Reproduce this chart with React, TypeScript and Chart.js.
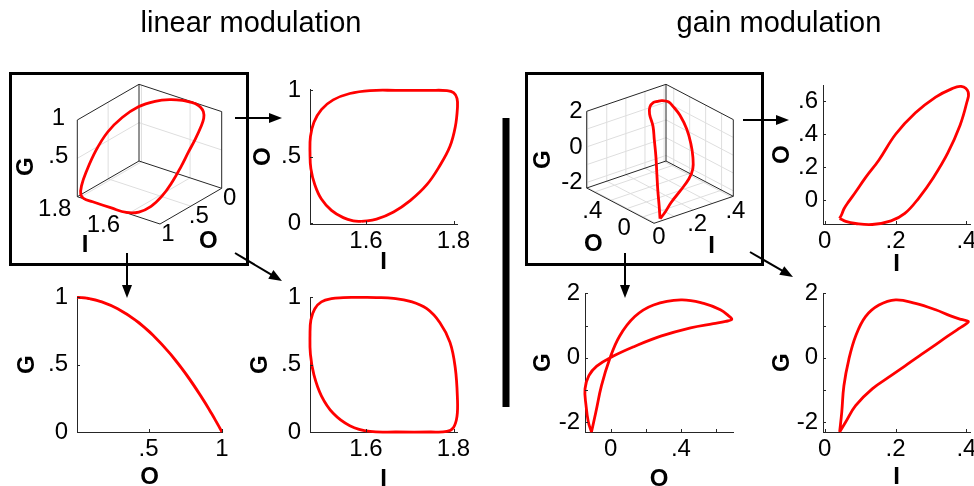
import React, { useEffect, useRef } from "react";
import { Chart, registerables } from "chart.js";
Chart.register(...registerables);

const FONT = "'Liberation Sans', Arial, Helvetica, sans-serif";
const RED = "#ff0000";
const AXIS = "#262626";
const TICK_FS = 24;
const TITLE_FS = 24;
const LINE_W = 2.8;

// ---------- linear modulation: one cycle of (I, O, G) ----------
const linI = [1.590, 1.624, 1.663, 1.701, 1.739, 1.769, 1.792, 1.804, 1.809, 1.808, 1.800, 1.785, 1.747, 1.670, 1.609, 1.563, 1.525, 1.498, 1.481, 1.473, 1.472, 1.474, 1.483, 1.498, 1.521, 1.548, 1.571];
const linO = [0.012, 0.030, 0.084, 0.169, 0.289, 0.434, 0.578, 0.723, 0.867, 0.940, 0.983, 0.998, 1.000, 1.000, 0.998, 0.976, 0.928, 0.855, 0.759, 0.651, 0.530, 0.410, 0.289, 0.181, 0.096, 0.041, 0.017];
const linG = [1.000, 0.999, 0.993, 0.971, 0.916, 0.812, 0.666, 0.477, 0.248, 0.116, 0.034, 0.004, 0.000, 0.000, 0.004, 0.047, 0.139, 0.269, 0.424, 0.576, 0.719, 0.832, 0.916, 0.967, 0.991, 0.998, 1.000];

// ---------- gain modulation: one cycle of (I, O, G) ----------
const gainI = [0.042, 0.059, 0.087, 0.134, 0.187, 0.226, 0.266, 0.306, 0.347, 0.382, 0.400, 0.405, 0.385, 0.355, 0.313, 0.256, 0.200, 0.153, 0.115, 0.087, 0.068, 0.054, 0.048];
const gainO = [-0.110, -0.128, -0.141, -0.147, -0.125, -0.080, 0.015, 0.135, 0.285, 0.455, 0.585, 0.655, 0.690, 0.672, 0.625, 0.530, 0.400, 0.244, 0.137, 0.050, -0.007, -0.053, -0.085];
const gainG = [-2.31, -2.00, -1.49, -0.97, -0.56, -0.26, 0.05, 0.35, 0.67, 0.93, 1.06, 1.13, 1.19, 1.30, 1.49, 1.69, 1.80, 1.64, 1.28, 0.67, -0.05, -0.87, -1.69];

// ---------- ticks ----------
const linITicks = [1.6, 1.8];
const linITickLabels = ["1.6", "1.8"];
const linUnitTicks = [0, 0.5, 1];
const linUnitTickLabels = ["0", ".5", "1"];
const linOTicksGO = [0.5, 1];
const linOTickLabelsGO = [".5", "1"];
const gainITicks = [0, 0.2, 0.4];
const gainITickLabels = ["0", ".2", ".4"];
const gainOTicks = [0, 0.2, 0.4, 0.6];
const gainOTickLabelsY = ["0", ".2", ".4", ".6"];
const gainOTickLabelsX = ["0", "", ".4", ""];
const gainGTicks = [-2, -1, 0, 1, 2];
const gainGTickLabels = ["-2", "", "0", "", "2"];

const lin3dITicks = [1.6, 1.8];
const lin3dILabels = ["1.6", "1.8"];
const lin3dOTicks = [0, 0.5, 1];
const lin3dOLabels = ["0", ".5", "1"];
const lin3dGTicks = [0, 0.5, 1];
const lin3dGLabels = ["", ".5", "1"];
const gain3dITicks = [0, 0.1, 0.2, 0.3, 0.4];
const gain3dILabels = ["0", "", ".2", "", ".4"];
const gain3dOTicks = [0, 0.2, 0.4, 0.6];
const gain3dOLabels = ["0", "", ".4", ""];
const gain3dGTicks = [-2, -1, 0, 1, 2];
const gain3dGLabels = ["-2", "", "0", "", "2"];

const close = (a: number[]) => a.concat([a[0]]);

// ---------- 2D panels ----------
type P2 = {
  xs: number[]; ys: number[];
  plot: { l: number; t: number; r: number; b: number };
  x: [number, number]; y: [number, number];
  xTicks: number[]; xLabels: string[]; yTicks: number[]; yLabels: string[];
  xTitle: string; yTitle: string; yTitleX: number; xTitleY: number;
  yPad: number; xPad: number;
};

const panels: P2[] = [
  { xs: linI, ys: linO, plot: { l: 310, t: 84, r: 457, b: 224 }, x: [1.472, 1.808], y: [-0.007, 1.007],
    xTicks: linITicks, xLabels: linITickLabels, yTicks: linUnitTicks, yLabels: linUnitTickLabels,
    xTitle: "I", yTitle: "O", yTitleX: 263, xTitleY: 262, yPad: 9, xPad: 3 },
  { xs: linO, ys: linG, plot: { l: 77, t: 292, r: 222, b: 432 }, x: [0.012, 1.0], y: [0, 1],
    xTicks: linOTicksGO, xLabels: linOTickLabelsGO, yTicks: linUnitTicks, yLabels: linUnitTickLabels,
    xTitle: "O", yTitle: "G", yTitleX: 27, xTitleY: 477, yPad: 9, xPad: 3 },
  { xs: linI, ys: linG, plot: { l: 310, t: 292, r: 457, b: 432 }, x: [1.472, 1.808], y: [0, 1],
    xTicks: linITicks, xLabels: linITickLabels, yTicks: linUnitTicks, yLabels: linUnitTickLabels,
    xTitle: "I", yTitle: "G", yTitleX: 260, xTitleY: 479, yPad: 9, xPad: 3 },
  { xs: gainI, ys: gainO, plot: { l: 823, t: 84, r: 970, b: 224 }, x: [-0.005, 0.41], y: [-0.144, 0.696],
    xTicks: gainITicks, xLabels: gainITickLabels, yTicks: gainOTicks, yLabels: gainOTickLabelsY,
    xTitle: "I", yTitle: "O", yTitleX: 782, xTitleY: 264, yPad: 5, xPad: 3 },
  { xs: gainO, ys: gainG, plot: { l: 585, t: 292, r: 733, b: 432 }, x: [-0.147, 0.697], y: [-2.31, 2],
    xTicks: gainOTicks, xLabels: gainOTickLabelsX, yTicks: gainGTicks, yLabels: gainGTickLabels,
    xTitle: "O", yTitle: "G", yTitleX: 543, xTitleY: 479, yPad: 5, xPad: 3 },
  { xs: gainI, ys: gainG, plot: { l: 823, t: 292, r: 970, b: 432 }, x: [-0.005, 0.41], y: [-2.31, 2],
    xTicks: gainITicks, xLabels: gainITickLabels, yTicks: gainGTicks, yLabels: gainGTickLabels,
    xTitle: "I", yTitle: "G", yTitleX: 782, xTitleY: 477, yPad: 5, xPad: 3 },
];

const inTicks = {
  id: "inTicks",
  afterDraw(chart: any) {
    const ctx = chart.ctx;
    const { bottom, left } = chart.chartArea;
    ctx.save();
    ctx.strokeStyle = AXIS;
    ctx.lineWidth = 1;
    const sx = chart.scales.x, sy = chart.scales.y;
    sx.ticks.forEach((t: any) => {
      const px = Math.round(sx.getPixelForValue(t.value)) + 0.5;
      ctx.beginPath(); ctx.moveTo(px, bottom); ctx.lineTo(px, bottom - 3); ctx.stroke();
    });
    sy.ticks.forEach((t: any) => {
      const py = Math.round(sy.getPixelForValue(t.value)) + 0.5;
      ctx.beginPath(); ctx.moveTo(left, py); ctx.lineTo(left + 3, py); ctx.stroke();
    });
    ctx.restore();
  },
};

function Plot2D({ p }: { p: P2 }) {
  const ref = useRef<HTMLCanvasElement>(null);
  const PAD_T = 18, PAD_R = 26;
  const Wy = Math.round(p.plot.l - p.yTitleX + TITLE_FS / 2);
  const Hx = Math.round(p.xTitleY - p.plot.b + TITLE_FS / 2);
  const left = p.plot.l - Wy;
  const top = p.plot.t - PAD_T;
  const W = Wy + (p.plot.r - p.plot.l) + PAD_R;
  const H = PAD_T + (p.plot.b - p.plot.t) + Hx;
  useEffect(() => {
    const xs = close(p.xs), ys = close(p.ys);
    const tickFont = { family: FONT, size: TICK_FS, lineHeight: 1.2 };
    const titleFont = { family: FONT, size: TITLE_FS, weight: "bold" as const, lineHeight: 1 };
    const chart = new Chart(ref.current as HTMLCanvasElement, {
      type: "scatter",
      data: {
        datasets: [{
          data: xs.map((x, i) => ({ x, y: ys[i] })),
          showLine: true, borderColor: RED, borderWidth: LINE_W, pointRadius: 0,
          tension: 0.4, fill: false, clip: false,
        }],
      },
      options: {
        animation: false, responsive: false, maintainAspectRatio: false, events: [],
        layout: { padding: { top: PAD_T, right: PAD_R, left: 0, bottom: 0 } },
        elements: { line: { capBezierPoints: false } },
        plugins: { legend: { display: false }, tooltip: { enabled: false } },
        scales: {
          x: {
            type: "linear", position: "bottom", min: p.x[0], max: p.x[1],
            grid: { display: false, drawTicks: false },
            border: { display: true, color: AXIS, width: 1 },
            ticks: { font: tickFont, color: "#000", padding: p.xPad, autoSkip: false, maxRotation: 0, minRotation: 0,
              callback: (_v: any, i: number) => p.xLabels[i] ?? "" },
            title: { display: true, text: p.xTitle, font: titleFont, color: "#000", padding: 0 },
            afterBuildTicks: (s: any) => { s.ticks = p.xTicks.map((v) => ({ value: v })); },
            afterFit: (s: any) => { s.height = Hx; },
          },
          y: {
            type: "linear", position: "left", min: p.y[0], max: p.y[1],
            grid: { display: false, drawTicks: false },
            border: { display: true, color: AXIS, width: 1 },
            ticks: { font: tickFont, color: "#000", padding: p.yPad, autoSkip: false,
              callback: (_v: any, i: number) => p.yLabels[i] ?? "" },
            title: { display: true, text: p.yTitle, font: titleFont, color: "#000", padding: 0 },
            afterBuildTicks: (s: any) => { s.ticks = p.yTicks.map((v) => ({ value: v })); },
            afterFit: (s: any) => { s.width = Wy; },
          },
        },
      } as any,
      plugins: [inTicks],
    });
    return () => chart.destroy();
  }, []);
  return (
    <canvas ref={ref} width={W} height={H}
      style={{ position: "absolute", left, top, width: W, height: H }} />
  );
}

// ---------- 3D panels ----------
type Vec = [number, number];
type C3 = {
  rect: { l: number; t: number; r: number; b: number };
  origin: Vec; vI: Vec; vO: Vec; vG: Vec;
  ranges: [number, number][];
  I: number[]; O: number[]; G: number[];
  ticks: number[][]; labels: string[][];
  edges: number[][][];
  walls: number[][];
  iAt: number[]; oAt: number[]; gAt: number[];
  iOff: Vec; oOff: Vec; gOff: Vec; gAlign: "right" | "center";
  iTitleOff: Vec; oTitleOff: Vec; gTitleOff: Vec;
};

const lin3D: C3 = {
  rect: { l: 0, t: 60, r: 250, b: 270 },
  origin: [221.7, 188.3], vI: [-82.7, -27.3], vO: [-61.7, 35.7], vG: [0, -76.7],
  ranges: [[1.47, 1.81], [0, 1], [0, 1]],
  I: linI, O: linO, G: linG,
  ticks: [lin3dITicks, lin3dOTicks, lin3dGTicks],
  labels: [lin3dILabels, lin3dOLabels, lin3dGLabels],
  edges: [
    [[1, 1, 0], [1, 1, 1]], [[1, 0, 0], [1, 0, 1]], [[0, 0, 0], [0, 0, 1]],
    [[1, 1, 1], [1, 0, 1]], [[1, 0, 1], [0, 0, 1]],
    [[1, 1, 0], [0, 1, 0]], [[0, 1, 0], [0, 0, 0]], [[1, 1, 0], [1, 0, 0]], [[1, 0, 0], [0, 0, 0]],
  ],
  walls: [[0, 1], [1, 0], [2, 0]],
  iAt: [1, 0], oAt: [0, 0], gAt: [1, 1],
  iOff: [-25, 12], oOff: [8, 10], gOff: [-19, -2], gAlign: "center",
  iTitleOff: [-33.6, 34.7], oTitleOff: [17.4, 35.5], gTitleOff: [-50.6, 8.3],
};

const gain3D: C3 = {
  rect: { l: 520, t: 60, r: 770, b: 270 },
  origin: [654, 223.3], vI: [79.3, -27], vO: [-67.3, -35.3], vG: [0, -76.7],
  ranges: [[-0.005, 0.41], [-0.147, 0.697], [-2.31, 2]],
  I: gainI, O: gainO, G: gainG,
  ticks: [gain3dITicks, gain3dOTicks, gain3dGTicks],
  labels: [gain3dILabels, gain3dOLabels, gain3dGLabels],
  edges: [
    [[0, 1, 0], [0, 1, 1]], [[1, 1, 0], [1, 1, 1]], [[1, 0, 0], [1, 0, 1]],
    [[0, 1, 1], [1, 1, 1]], [[1, 1, 1], [1, 0, 1]],
    [[0, 1, 0], [0, 0, 0]], [[0, 0, 0], [1, 0, 0]], [[0, 1, 0], [1, 1, 0]], [[1, 1, 0], [1, 0, 0]],
  ],
  walls: [[1, 1], [0, 1], [2, 0]],
  iAt: [0, 0], oAt: [0, 0], gAt: [0, 1],
  iOff: [4, 14], oOff: [-18, 11], gOff: [-4, 0], gAlign: "right",
  iTitleOff: [18, 37], oTitleOff: [-27, 39], gTitleOff: [-43.4, 10],
};

function projN(c: C3, n: number[]): Vec {
  return [
    c.origin[0] + n[0] * c.vI[0] + n[1] * c.vO[0] + n[2] * c.vG[0],
    c.origin[1] + n[0] * c.vI[1] + n[1] * c.vO[1] + n[2] * c.vG[1],
  ];
}
function norm(c: C3, axis: number, v: number) {
  const [a, b] = c.ranges[axis];
  return (v - a) / (b - a);
}

function make3DPlugin(c: C3) {
  return {
    id: "box3d",
    beforeDatasetsDraw(chart: any) {
      const ctx = chart.ctx;
      const sx = chart.scales.x, sy = chart.scales.y;
      const P = (n: number[]): Vec => {
        const [X, Y] = projN(c, n);
        return [sx.getPixelForValue(X), sy.getPixelForValue(Y)];
      };
      const seg = (a: number[], b: number[]) => {
        const p1 = P(a), p2 = P(b);
        ctx.beginPath(); ctx.moveTo(p1[0], p1[1]); ctx.lineTo(p2[0], p2[1]); ctx.stroke();
      };
      ctx.save();
      // grid on back walls
      ctx.strokeStyle = "#dedede";
      ctx.lineWidth = 1;
      c.walls.forEach(([k, side]) => {
        const others = [0, 1, 2].filter((a) => a !== k);
        others.forEach((m) => {
          const n = others.find((a) => a !== m) as number;
          c.ticks[m].forEach((t) => {
            const tn = norm(c, m, t);
            if (tn <= 0.001 || tn >= 0.999) return;
            const a = [0, 0, 0], b = [0, 0, 0];
            a[k] = side; b[k] = side; a[m] = tn; b[m] = tn; a[n] = 0; b[n] = 1;
            seg(a, b);
          });
        });
      });
      // box edges
      ctx.strokeStyle = AXIS;
      c.edges.forEach(([a, b]) => seg(a, b));
      // tick labels
      ctx.fillStyle = "#000";
      ctx.font = `${TICK_FS}px ${FONT}`;
      ctx.textBaseline = "middle";
      ctx.textAlign = "center";
      c.ticks[0].forEach((t, i) => {
        const [x, y] = P([norm(c, 0, t), c.iAt[0], c.iAt[1]]);
        ctx.fillText(c.labels[0][i], x + c.iOff[0], y + c.iOff[1]);
      });
      c.ticks[1].forEach((t, i) => {
        const [x, y] = P([c.oAt[0], norm(c, 1, t), c.oAt[1]]);
        ctx.fillText(c.labels[1][i], x + c.oOff[0], y + c.oOff[1]);
      });
      ctx.textAlign = c.gAlign;
      c.ticks[2].forEach((t, i) => {
        const [x, y] = P([c.gAt[0], c.gAt[1], norm(c, 2, t)]);
        ctx.fillText(c.labels[2][i], x + c.gOff[0], y + c.gOff[1]);
      });
      // axis titles
      ctx.font = `bold ${TITLE_FS}px ${FONT}`;
      ctx.textAlign = "center";
      const pi = P([0.5, c.iAt[0], c.iAt[1]]);
      ctx.fillText("I", pi[0] + c.iTitleOff[0], pi[1] + c.iTitleOff[1]);
      const po = P([c.oAt[0], 0.5, c.oAt[1]]);
      ctx.fillText("O", po[0] + c.oTitleOff[0], po[1] + c.oTitleOff[1]);
      const pg = P([c.gAt[0], c.gAt[1], 0.5]);
      ctx.translate(pg[0] + c.gTitleOff[0], pg[1] + c.gTitleOff[1]);
      ctx.rotate(-Math.PI / 2);
      ctx.fillText("G", 0, 0);
      ctx.restore();
    },
  };
}

function Plot3D({ c }: { c: C3 }) {
  const ref = useRef<HTMLCanvasElement>(null);
  const W = c.rect.r - c.rect.l, H = c.rect.b - c.rect.t;
  useEffect(() => {
    const I = close(c.I), O = close(c.O), G = close(c.G);
    const pts = I.map((iv, k) => {
      const [x, y] = projN(c, [norm(c, 0, iv), norm(c, 1, O[k]), norm(c, 2, G[k])]);
      return { x, y };
    });
    const chart = new Chart(ref.current as HTMLCanvasElement, {
      type: "scatter",
      data: {
        datasets: [{
          data: pts, showLine: true, borderColor: RED, borderWidth: LINE_W,
          pointRadius: 0, tension: 0.4, fill: false, clip: false,
        }],
      },
      options: {
        animation: false, responsive: false, maintainAspectRatio: false, events: [],
        layout: { padding: 0 },
        elements: { line: { capBezierPoints: false } },
        plugins: { legend: { display: false }, tooltip: { enabled: false } },
        scales: {
          x: { type: "linear", display: false, min: c.rect.l, max: c.rect.r },
          y: { type: "linear", display: false, min: c.rect.t, max: c.rect.b, reverse: true },
        },
      } as any,
      plugins: [make3DPlugin(c)],
    });
    return () => chart.destroy();
  }, []);
  return (
    <canvas ref={ref} width={W} height={H}
      style={{ position: "absolute", left: c.rect.l, top: c.rect.t, width: W, height: H }} />
  );
}

function Arrow({ x1, y1, x2, y2 }: { x1: number; y1: number; x2: number; y2: number }) {
  const L = 13, Wh = 5;
  const dx = x2 - x1, dy = y2 - y1, len = Math.hypot(dx, dy);
  const ux = dx / len, uy = dy / len;
  const bx = x2 - ux * L, by = y2 - uy * L;
  const px = -uy * Wh, py = ux * Wh;
  return (
    <g>
      <line x1={x1} y1={y1} x2={bx + ux * 2} y2={by + uy * 2} stroke="#000" strokeWidth={2} />
      <polygon points={`${x2},${y2} ${bx + px},${by + py} ${bx - px},${by - py}`} fill="#000" />
    </g>
  );
}

export default function App() {
  return (
    <div style={{ position: "fixed", left: 0, top: 0, width: 974, height: 486, overflow: "hidden", background: "#fff" }}>
      <div style={{ position: "absolute", left: 8.5, top: 71.5, width: 240, height: 194, border: "3px solid #000", boxSizing: "border-box" }} />
      <div style={{ position: "absolute", left: 525, top: 71.5, width: 239, height: 194, border: "3px solid #000", boxSizing: "border-box" }} />
      <Plot3D c={lin3D} />
      <Plot3D c={gain3D} />
      {panels.map((p, i) => <Plot2D key={i} p={p} />)}
      <svg width={974} height={486} style={{ position: "absolute", left: 0, top: 0, pointerEvents: "none" }}>
        <text x={251} y={32} textAnchor="middle" fontFamily={FONT} fontSize={29} fill="#000">linear modulation</text>
        <text x={779} y={32} textAnchor="middle" fontFamily={FONT} fontSize={29} fill="#000">gain modulation</text>
        <rect x={502.5} y={118} width={7} height={289} fill="#000" />
        <Arrow x1={235} y1={118} x2={282} y2={118} />
        <Arrow x1={127} y1={253} x2={127} y2={298} />
        <Arrow x1={235} y1={253} x2={282} y2={281} />
        <Arrow x1={743} y1={120} x2={789} y2={120} />
        <Arrow x1={625} y1={253} x2={625} y2={298} />
        <Arrow x1={750} y1={252} x2={793} y2={277} />
      </svg>
    </div>
  );
}
